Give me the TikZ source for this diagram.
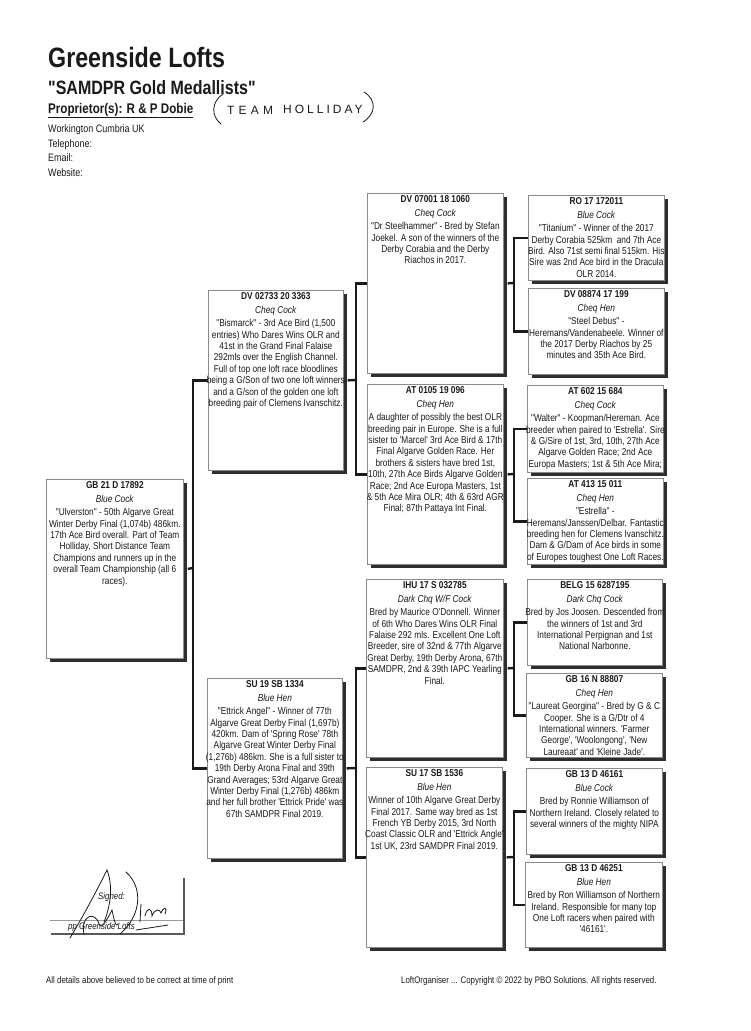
\documentclass[tikz,border=0pt]{standalone}
\usepackage{fontspec}
\setmainfont[FakeStretch=0.83, Ligatures=TeXOff]{Liberation Sans}
\newfontfamily\handfontA[LetterSpace=35, Ligatures=TeXOff]{Liberation Sans}
\newfontfamily\handfontB[LetterSpace=25, Ligatures=TeXOff]{Liberation Sans}
\definecolor{ink}{HTML}{1A1A1A}
\definecolor{boxline}{HTML}{8A8A8A}
\definecolor{shade}{HTML}{2E2E2E}
\newcommand{\ped}[8]{%
  \node[pbox, anchor=north west, minimum width=#4pt, minimum height=#5pt] (#1) at (#2,#3) {};
  \node[ptext, anchor=north] (#1-t) at ([yshift=-2.6pt]#1.north) {\textbf{#6}\\[2.2pt]\textit{#7}\\[2pt]#8};
}
\begin{document}
\begin{tikzpicture}[x=1pt,y=-1pt,
  pbox/.style={draw=boxline, line width=0.7pt, fill=white, inner sep=0pt,
    preaction={draw=none, fill=shade, transform canvas={shift={(4pt,-4pt)}}}},
  ptext/.style={inner sep=0pt, align=center, font=\fontsize{10}{11.4}\selectfont, text=ink},
  conn/.style={line width=2.4pt, draw=ink, line join=miter},
  hdr/.style={anchor=base west, inner sep=0pt, text=ink},
  small/.style={anchor=base west, inner sep=0pt, text=ink, font=\fontsize{10.8}{12}\selectfont},
  sig/.style={draw=ink, line width=0.8pt, line cap=round}
]
\fill[white] (0,0) rectangle (750,1031);
\useasboundingbox (0,0) rectangle (750,1031);

% ---------- header ----------
\node[hdr, font=\bfseries\fontsize{28}{30}\selectfont] (title) at (48,67) {Greenside Lofts};
\node[hdr, font=\bfseries\fontsize{19.3}{21}\selectfont] (sub) at (48,94) {"SAMDPR Gold Medallists"};
\node[hdr, font=\bfseries\fontsize{14}{16}\selectfont] (prop) at (48,113) {\underline{Proprietor(s): R \& P Dobie}};
\node[small] (addr) at (48,132) {Workington Cumbria UK};
\node[small] (tel) at (48,147) {Telephone:};
\node[small] (mail) at (48,161.5) {Email:};
\node[small] (web) at (48,176) {Website:};

% handwritten note
\node[hdr, font=\handfontA\fontsize{12}{13}\selectfont, text=ink] (hand1) at (227,114) {TEAM};
\node[hdr, font=\handfontB\fontsize{12}{13}\selectfont, text=ink] (hand2) at (283,113) {HOLLIDAY};
\draw[sig] (223,94) .. controls (211,102) and (211,116) .. (221,124);
\draw[sig] (364,92) .. controls (377,100) and (376,114) .. (363,122);

% ---------- connectors ----------
\coordinate (j0) at (193,568);
\coordinate (j1a) at (356,380);
\coordinate (j1b) at (356,768);
\coordinate (j2a) at (514,283);
\coordinate (j2b) at (514,474);
\coordinate (j2c) at (514,668);
\coordinate (j2d) at (514,857);

% ---------- boxes ----------
\ped{root}{46}{479}{137}{179}{GB 21 D 17892}{Blue Cock}{"Ulverston" - 50th Algarve Great\\Winter Derby Final (1,074b) 486km.\\17th Ace Bird overall. Part of Team\\Holliday, Short Distance Team\\Champions and runners up in the\\overall Team Championship (all 6\\races).}

\ped{s}{208}{290}{135}{180}{DV 02733 20 3363}{Cheq Cock}{"Bismarck" - 3rd Ace Bird (1,500\\entries) Who Dares Wins OLR and\\41st in the Grand Final Falaise\\292mls over the English Channel.\\Full of top one loft race bloodlines\\being a G/Son of two one loft winners\\and a G/son of the golden one loft\\breeding pair of Clemens Ivanschitz.}

\ped{d}{207}{678}{135}{180}{SU 19 SB 1334}{Blue Hen}{"Ettrick Angel" - Winner of 77th\\Algarve Great Derby Final (1,697b)\\420km. Dam of 'Spring Rose' 78th\\Algarve Great Winter Derby Final\\(1,276b) 486km. She is a full sister to\\19th Derby Arona Final and 39th\\Grand Averages; 53rd Algarve Great\\Winter Derby Final (1,276b) 486km\\and her full brother 'Ettrick Pride' was\\67th SAMDPR Final 2019.}

\ped{ss}{367}{193}{136}{180}{DV 07001 18 1060}{Cheq Cock}{"Dr Steelhammer" - Bred by Stefan\\Joekel. A son of the winners of the\\Derby Corabia and the Derby\\Riachos in 2017.}

\ped{sd}{367}{384}{136}{180}{AT 0105 19 096}{Cheq Hen}{A daughter of possibly the best OLR\\breeding pair in Europe. She is a full\\sister to 'Marcel' 3rd Ace Bird \& 17th\\Final Algarve Golden Race. Her\\brothers \& sisters have bred 1st,\\10th, 27th Ace Birds Algarve Golden\\Race; 2nd Ace Europa Masters, 1st\\\& 5th Ace Mira OLR; 4th \& 63rd AGR\\Final; 87th Pattaya Int Final.}

\ped{ds}{366}{579}{137}{178}{IHU 17 S 032785}{Dark Chq W/F Cock}{Bred by Maurice O'Donnell. Winner\\of 6th Who Dares Wins OLR Final\\Falaise 292 mls. Excellent One Loft\\Breeder, sire of 32nd \& 77th Algarve\\Great Derby, 19th Derby Arona, 67th\\SAMDPR, 2nd \& 39th IAPC Yearling\\Final.}

\ped{dd}{366}{767}{136}{180}{SU 17 SB 1536}{Blue Hen}{Winner of 10th Algarve Great Derby\\Final 2017. Same way bred as 1st\\French YB Derby 2015, 3rd North\\Coast Classic OLR and 'Ettrick Angle'\\1st UK, 23rd SAMDPR Final 2019.}

\ped{sss}{528}{195}{136}{85}{RO 17 172011}{Blue Cock}{"Titanium" - Winner of the 2017\\Derby Corabia 525km\ \ and 7th Ace\\Bird. Also 71st semi final 515km. His\\Sire was 2nd Ace bird in the Dracula\\OLR 2014.}

\ped{ssd}{528}{288}{136}{86}{DV 08874 17 199}{Cheq Hen}{"Steel Debus" -\\Heremans/Vandenabeele. Winner of\\the 2017 Derby Riachos by 25\\minutes and 35th Ace Bird.}

\ped{sds}{527}{385}{136}{87}{AT 602 15 684}{Cheq Cock}{"Walter" - Koopman/Hereman. Ace\\breeder when paired to 'Estrella'. Sire\\\& G/Sire of 1st, 3rd, 10th, 27th Ace\\Algarve Golden Race; 2nd Ace\\Europa Masters; 1st \& 5th Ace Mira;}

\ped{sdd}{527}{478}{136}{86}{AT 413 15 011}{Cheq Hen}{"Estrella" -\\Heremans/Janssen/Delbar. Fantastic\\breeding hen for Clemens Ivanschitz.\\Dam \& G/Dam of Ace birds in some\\of Europes toughest One Loft Races.}

\ped{dss}{527}{579}{135}{86}{BELG 15 6287195}{Dark Chq Cock}{Bred by Jos Joosen. Descended from\\the winners of 1st and 3rd\\International Perpignan and 1st\\National Narbonne.}

\ped{dsd}{526}{673}{136}{84}{GB 16 N 88807}{Cheq Hen}{"Laureat Georgina" - Bred by G \& C\\Cooper. She is a G/Dtr of 4\\International winners. 'Farmer\\George', 'Woolongong', 'New\\Laureaat' and 'Kleine Jade'.}

\ped{dds}{526}{768}{136}{86}{GB 13 D 46161}{Blue Cock}{Bred by Ronnie Williamson of\\Northern Ireland. Closely related to\\several winners of the mighty NIPA}

\ped{ddd}{525}{862}{137}{85}{GB 13 D 46251}{Blue Hen}{Bred by Ron Williamson of Northern\\Ireland. Responsible for many top\\One Loft racers when paired with\\'46161'.}

% ---------- connector drawing ----------
\draw[conn] ([xshift=4pt]root.east) -- (j0);
\draw[conn] (s.west) -| (j0) |- (d.west);
\draw[conn] ([xshift=4pt]s.east) -- (j1a);
\draw[conn] (ss.west) -| (j1a) |- (sd.west);
\draw[conn] ([xshift=4pt]d.east) -- (j1b);
\draw[conn] (ds.west) -| (j1b) |- (dd.west);
\draw[conn] ([xshift=4pt]ss.east) -- (j2a);
\draw[conn] (sss.west) -| (j2a) |- (ssd.west);
\draw[conn] ([xshift=4pt]sd.east) -- (j2b);
\draw[conn] (sds.west) -| (j2b) |- (sdd.west);
\draw[conn] ([xshift=4pt]ds.east) -- (j2c);
\draw[conn] (dss.west) -| (j2c) |- (dsd.west);
\draw[conn] ([xshift=4pt]dd.east) -- (j2d);
\draw[conn] (dds.west) -| (j2d) |- (ddd.west);

% ---------- signature ----------
\draw[black!40, line width=0.6pt] (50,920) -- (183,920);
\draw[black!65, line width=1.3pt] (51,934) -- (184,934) -- (184,878);
\node[hdr, font=\itshape\fontsize{9.5}{11}\selectfont] (signed) at (98,899) {Signed:};
\node[hdr, font=\itshape\fontsize{9.5}{10}\selectfont] (pp) at (68,929.5) {pp Greenside Lofts};
\draw[sig] (70,938) .. controls (84,915) and (98,888) .. (107,870) .. controls (113,885) and (111,905) .. (104,922);
\draw[sig] (84,934) .. controls (80,916) and (95,910) .. (99,924) .. controls (101,931) and (108,918) .. (112,910);
\draw[sig] (126,872) .. controls (143,887) and (142,915) .. (120,934);
\draw[sig] (112,910) .. controls (114,920) and (116,928) .. (118,924);
\draw[sig] (141,904) -- (140,922);
\draw[sig] (145,916) .. controls (147,907) and (152,907) .. (152,916) .. controls (155,908) and (160,909) .. (161,913) .. controls (163,907) and (168,906) .. (165,914);
\draw[sig] (136,930) -- (168,925);

% ---------- footer ----------
\node[hdr, font=\fontsize{9.5}{11}\selectfont] (foot1) at (46,983) {All details above believed to be correct at time of print};
\node[hdr, font=\fontsize{9.5}{11}\selectfont] (foot2) at (401,983) {LoftOrganiser ... Copyright \textcopyright\ 2022 by PBO Solutions. All rights reserved.};
\end{tikzpicture}
\end{document}
